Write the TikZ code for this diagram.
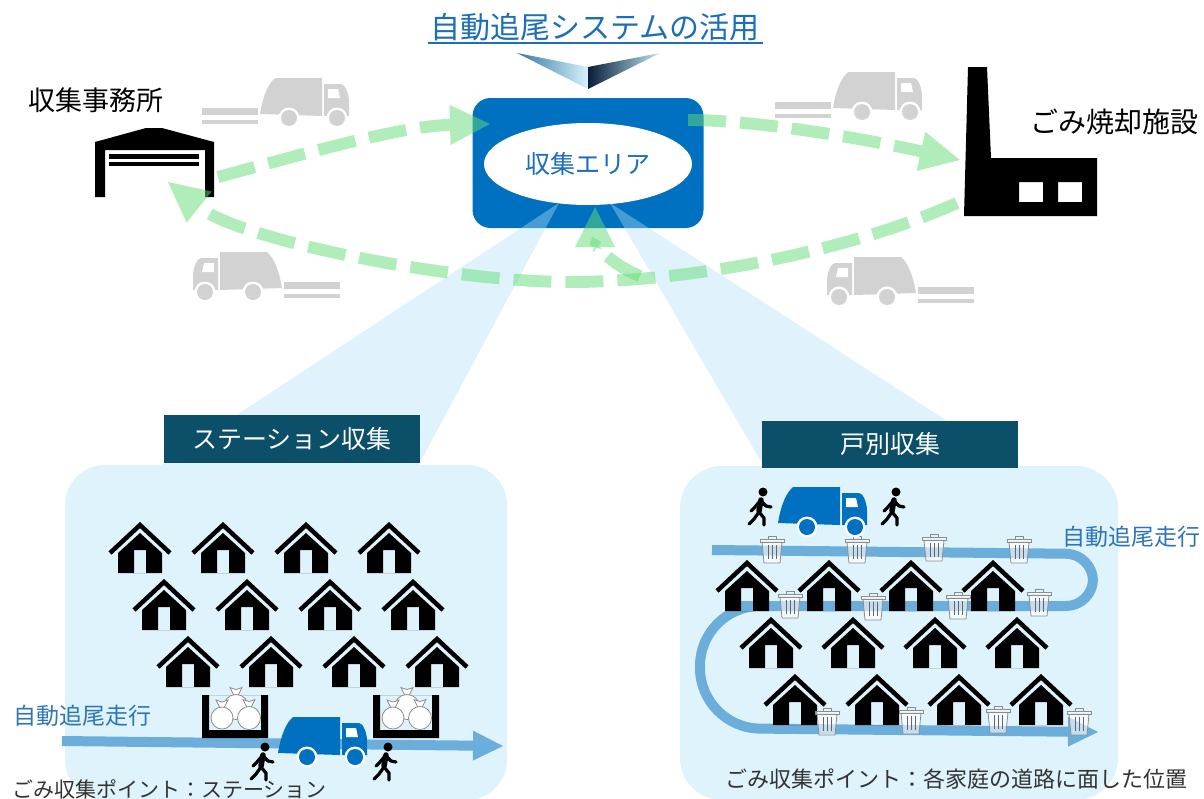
\documentclass[tikz,border=0pt]{standalone}
\usepackage{fontspec}
\setmainfont{Noto Sans CJK JP}
\usetikzlibrary{arrows.meta}
\usetikzlibrary{shapes.geometric}

\definecolor{areablue}{RGB}{0,112,192}
\definecolor{headblue}{RGB}{28,110,188}
\definecolor{tabteal}{RGB}{12,79,104}
\definecolor{panelblue}{RGB}{223,243,252}
\definecolor{beamblue}{RGB}{177,225,247}
\definecolor{routeblue}{RGB}{108,174,219}
\definecolor{labelblue}{RGB}{46,117,182}
\definecolor{flowgreen}{RGB}{100,220,120}
\definecolor{truckgray}{RGB}{210,210,210}

\tikzset{
  flow/.style={flowgreen, opacity=0.5, line width=12pt, dash pattern=on 38pt off 14pt,
    -{Triangle[length=40pt,width=40pt,line width=0pt]}},
  route/.style={routeblue, line width=10pt, -{Triangle[length=30pt,width=30pt,line width=0pt]}},
  tab/.style={fill=tabteal, text=white, minimum width=256pt, minimum height=48pt,
    font=\fontsize{25}{30}\selectfont},
  pics/house/.style={code={
    \fill[even odd rule] (-22,51) -- (-22,31) -- (0,11) -- (22,31) -- (22,51) -- cycle
      (-6,28) rectangle (6,51);
    \draw[line width=4.5pt] (-30,31) -- (0,3) -- (30,31);
  }},
  pics/bin/.style={code={
    \filldraw[fill=white, fill opacity=0.6, draw=black!45, line width=0.8pt]
      (-10,-21) -- (-8,0) -- (8,0) -- (10,-21) -- cycle;
    \filldraw[fill=white, fill opacity=0.6, draw=black!45, line width=0.8pt]
      (-12,-24) rectangle (12,-21);
    \draw[black!45, line width=0.8pt] (-4,-24) -- (-4,-27) -- (4,-27) -- (4,-24);
    \foreach \u in {-4,0,4}
      \draw[black!60, line width=0.8pt] (\u,-18) -- (\u,-4);
  }},
  pics/sack/.style={code={
    \filldraw[fill=white, draw=black!45, line width=0.8pt]
      (-2,-#1+1) -- (-6,-#1-7) -- (0,-#1-5) -- (6,-#1-7) -- (2,-#1+1) -- cycle;
    \filldraw[fill=white, draw=black!45, line width=0.8pt] (0,0) circle (#1pt);
  }},
  pics/station/.style={code={
    \fill[even odd rule] (0,0) rectangle (66,43) (7,0) rectangle (59,35);
    \pic at (34,12) {sack=12.5};
    \pic at (20,23) {sack=11};
    \pic at (47,23) {sack=11.5};
  }},
  pics/truck/.style={code={
    \fill[#1] (0,-4) .. controls (3,-22) and (8,-34) .. (15,-40) -- (62,-40) -- (62,-2) -- cycle;
    \fill[#1] (64,-34) -- (81,-34) .. controls (85,-34) and (89,-24) .. (89,-16)
      -- (89,-2) -- (64,-2) -- cycle;
    \fill[white] (68,-29) -- (78,-29) -- (80,-20) -- (68,-20) -- cycle;
    \foreach \u in {29,77} {
      \fill[white] (\u,0) circle (10.5pt);
      \fill[#1] (\u,0) circle (8pt);
    }
  }},
  pics/speed/.style={code={
    \fill[truckgray] (-58,-10) rectangle (-2,-3);
    \fill[truckgray] (-58,2) rectangle (-2,6);
  }},
  pics/walker/.style={code={
    \fill (3,-33) circle (4.5pt);
    \draw[line width=5.5pt, line cap=round] (1,-25) -- (-1,-14);
    \draw[line width=3.2pt, line cap=round, line join=round]
      (0,-24) -- (-5,-18) -- (-9,-14)
      (1,-24) -- (6,-19) -- (11,-18)
      (-1,-13) -- (-6,-6) -- (-11,-1)
      (-1,-13) -- (4,-7) -- (4,0);
  }},
}

\begin{document}
\begin{tikzpicture}[x=1pt, y=-1pt, every node/.style={inner sep=0pt}]
  \useasboundingbox (0,0) rectangle (1204,798);

  % heading
  \node [text=headblue, font=\fontsize{30}{36}\selectfont] (headline) at (595,27) {自動追尾システムの活用};
  \draw [headblue, line width=1.3pt] (428,43) -- (763,43);
  \shade [left color={rgb,255:red,50;green,120;blue,160}, middle color={rgb,255:red,85;green,195;blue,235},
    right color={rgb,255:red,215;green,242;blue,252}] (517,53) -- (588,67) -- (588,89) -- cycle;
  \shade [left color={rgb,255:red,10;green,30;blue,58}, middle color={rgb,255:red,60;green,140;blue,180},
    right color={rgb,255:red,185;green,232;blue,246}] (588,67) -- (660,53) -- (588,89) -- cycle;

  % collection area
  \node [fill=areablue, rounded corners=18pt, minimum width=231pt, minimum height=130pt] (area) at (588,163) {};

  \fill [beamblue, opacity=0.4] (559,203) -- (153,470) -- (416,470) -- cycle;
  \fill [beamblue, opacity=0.4] (610,203) -- (766,470) -- (1023,470) -- cycle;

  \node [ellipse, fill=white, minimum width=208pt, minimum height=82pt, text=headblue,
    font=\fontsize{25}{30}\selectfont] (areaname) at (588,164) {収集エリア};

  % office
  \node [font=\fontsize{27}{32}\selectfont] (officename) at (96,100) {収集事務所};
  \fill [even odd rule] (95,197) -- (95,142) -- (146,128) -- (162,128) -- (214,142) -- (214,197)
    -- (205,197) -- (205,150) -- (105,150) -- (105,197) -- cycle;
  \fill (109,154) rectangle (199,159);
  \fill (109,162) rectangle (199,166);

  % incineration plant
  \node [font=\fontsize{28}{34}\selectfont] (plantname) at (1114,122) {ごみ焼却施設};
  \fill [even odd rule] (968,67) -- (987,67) -- (991,158) -- (1097,158) -- (1097,216) -- (964,216) -- cycle
    (1019,182) rectangle (1043,202) (1058,182) rectangle (1082,202);

  % trucks on the road
  \pic at (260,118) {speed};
  \pic at (260,118) {truck=truckgray};
  \pic [xscale=-1] at (282,292) {speed};
  \pic [xscale=-1] at (282,292) {truck=truckgray};
  \pic at (833,112) {speed};
  \pic at (833,112) {truck=truckgray};
  \pic [xscale=-1] at (916,297) {speed};
  \pic [xscale=-1] at (916,297) {truck=truckgray};

  % flows
  \coordinate (office-out) at (218,177);
  \coordinate (office-in) at (168,182);
  \coordinate (area-in) at (490,124);
  \coordinate (area-out) at (688,120);
  \coordinate (area-back) at (595,207);
  \coordinate (plant-in) at (960,160);
  \coordinate (plant-out) at (957,203);
  \coordinate (turn) at (640,276);

  \draw [flow] (office-out) .. controls (300,155) and (400,126) .. (area-in);
  \draw [flow] (area-out) .. controls (760,120) and (870,140) .. (plant-in);
  \draw [flow] (plant-out) .. controls (840,255) and (680,282) .. (570,282)
    .. controls (450,282) and (240,240) .. (office-in);
  \draw [flow] (turn) .. controls (605,262) and (595,240) .. (area-back);

  % station collection
  \fill [panelblue, rounded corners=40pt] (65,465) rectangle (507,800);
  \node [tab] (stationtab) at (292,439) {ステーション収集};

  \foreach \r in {0,1,2}
    \foreach \c in {0,...,3}
      \pic at ({140+24*\r+83*\c},{522+57*\r}) {house};

  \draw [route] (62,741) -- (503,746);
  \pic at (202,695) {station};
  \pic at (373,695) {station};
  \pic at (278,757) {truck=areablue};
  \pic at (262,780) {walker};
  \pic at (385,780) {walker};
  \node [text=labelblue, font=\fontsize{23}{28}\selectfont] (stationroute) at (82,716) {自動追尾走行};
  \node [anchor=west, text=black!80, font=\fontsize{21}{26}\selectfont] (stationpoint) at (12,789)
    {ごみ収集ポイント：ステーション};

  % door-to-door collection
  \fill [panelblue, rounded corners=42pt] (680,466) rectangle (1118,800);
  \node [tab, minimum height=47pt] (doortab) at (890,444.5) {戸別収集};

  \draw [route, rounded corners=27pt] (712,550) -- (1093,554) -- (1093,606) -- (760,606)
    [rounded corners=60pt] -- (700,606) -- (700,728) -- (1098,732);

  \foreach \r in {0,1,2}
    \foreach \c in {0,...,3}
      \pic at ({747+24*\r+82*\c},{560+57*\r}) {house};

  \foreach \bx/\by in {772/563,857/563,934/561,1019/563,790/618,873/620,958/619,1039/616,
      827/735,911/734,998/733,1079/735}
    \pic at (\bx,\by) {bin};

  \pic at (778,527) {truck=areablue};
  \pic at (760,525) {walker};
  \pic at (893,525) {walker};
  \node [text=labelblue, font=\fontsize{23}{28}\selectfont] (doorroute) at (1131,537) {自動追尾走行};
  \node [text=black!80, font=\fontsize{22}{26}\selectfont] (doorpoint) at (956,779)
    {ごみ収集ポイント：各家庭の道路に面した位置};
\end{tikzpicture}
\end{document}
